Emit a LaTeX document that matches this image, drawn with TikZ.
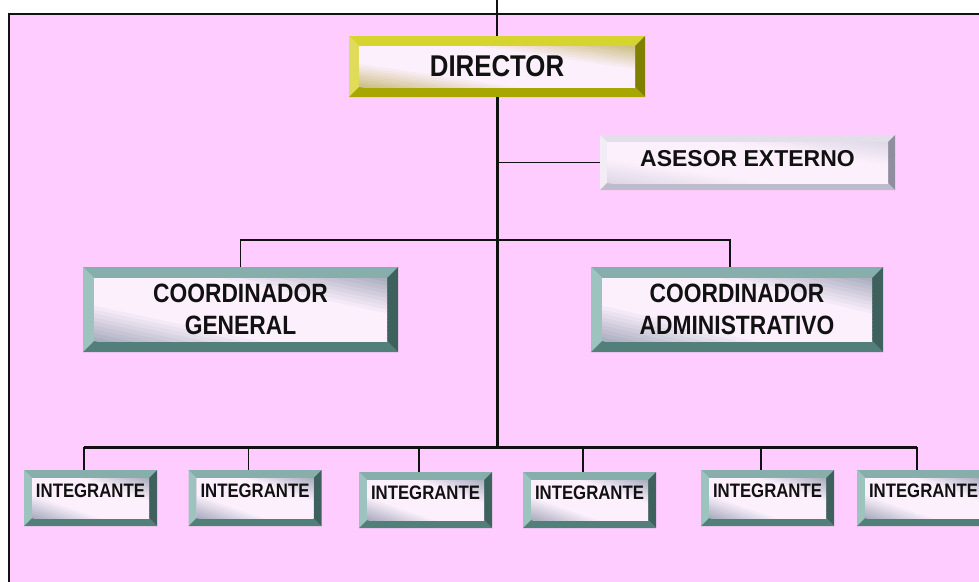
\documentclass[tikz,border=0pt]{standalone}
\usepackage{fontspec}
\setmainfont{Liberation Sans}
\newfontfamily\angosta[FakeStretch=0.86]{Liberation Sans}
\usetikzlibrary{positioning,calc}
\definecolor{ocInk}{HTML}{111111}
\definecolor{ocPink}{HTML}{FFCCFF}
\definecolor{ocFace}{HTML}{FCF0FC}
\definecolor{ocGray}{HTML}{A8ACBE}
\definecolor{ocTint}{HTML}{CCBE84}
\definecolor{ocGoldT}{HTML}{D6D42E}
\definecolor{ocGoldL}{HTML}{E0DC5A}
\definecolor{ocGoldB}{HTML}{A8A600}
\definecolor{ocGoldR}{HTML}{808000}
\definecolor{ocTealT}{HTML}{86AFAB}
\definecolor{ocTealL}{HTML}{9DC3BF}
\definecolor{ocTealB}{HTML}{527F7A}
\definecolor{ocTealR}{HTML}{3F615D}
\definecolor{ocLilaT}{HTML}{E2DEEA}
\definecolor{ocLilaL}{HTML}{F2ECF4}
\definecolor{ocLilaB}{HTML}{BDBCCC}
\definecolor{ocLilaR}{HTML}{8E8E9E}
\definecolor{ocLilaF}{HTML}{DED8E6}
% beveled face: width, top, left, bottom, right, light, dark
\newcommand{\biselar}[7]{%
  \coordinate (bNW) at (path picture bounding box.north west);
  \coordinate (bNE) at (path picture bounding box.north east);
  \coordinate (bSE) at (path picture bounding box.south east);
  \coordinate (bSW) at (path picture bounding box.south west);
  \fill[#2] (bNW) -- (bNE) -- ([shift={(-#1,-#1)}]bNE) -- ([shift={(#1,-#1)}]bNW) -- cycle;
  \fill[#3] (bNW) -- (bSW) -- ([shift={(#1,#1)}]bSW) -- ([shift={(#1,-#1)}]bNW) -- cycle;
  \fill[#4] (bSW) -- (bSE) -- ([shift={(-#1,#1)}]bSE) -- ([shift={(#1,#1)}]bSW) -- cycle;
  \fill[#5] (bNE) -- (bSE) -- ([shift={(-#1,#1)}]bSE) -- ([shift={(-#1,-#1)}]bNE) -- cycle;
  \coordinate (fO) at ([shift={(#1,#1)}]bSW);
  \coordinate (fX) at ([shift={(-#1,#1)}]bSE);
  \coordinate (fY) at ([shift={(#1,-#1)}]bNW);
  \begin{scope}
    \clip (fO) rectangle ([shift={(-#1,-#1)}]bNE);
    \foreach \k in {0,...,31}{
      \pgfmathsetmacro{\sa}{\k/16}
      \pgfmathsetmacro{\sb}{(\k+1)/16+0.02}
      \pgfmathtruncatemacro{\pc}{min(100,170*(1-abs((\k+0.5)/16-1)))}
      \fill[#6!\pc!#7] let \p1=($(fX)-(fO)$), \p2=($(fY)-(fO)$) in
        ($(fO)+({(\sa-3)*\x1},{3*\y2})$) -- ($(fO)+({(\sa+3)*\x1},{-3*\y2})$)
        -- ($(fO)+({(\sb+3)*\x1},{-3*\y2})$) -- ($(fO)+({(\sb-3)*\x1},{3*\y2})$) -- cycle;
    }
  \end{scope}
}
\tikzset{
  puesto/.style={rectangle, inner sep=0pt, align=center, text=ocInk},
  puestoD/.style={puesto, minimum width=296pt, minimum height=61pt, font=\angosta\fontsize{30}{34}\selectfont\bfseries,
    path picture={\biselar{10pt}{ocGoldT}{ocGoldL}{ocGoldB}{ocGoldR}{ocFace}{ocTint}}},
  puestoA/.style={puesto, minimum width=295pt, minimum height=55pt, font=\fontsize{23}{28}\selectfont\bfseries,
    text height=16pt, text depth=9pt,
    path picture={\biselar{7pt}{ocLilaT}{ocLilaL}{ocLilaB}{ocLilaR}{ocFace}{ocLilaF}}},
  puestoC/.style={puesto, minimum height=85pt, font=\angosta\fontsize{26.5}{32}\selectfont\bfseries,
    path picture={\biselar{11pt}{ocTealT}{ocTealL}{ocTealB}{ocTealR}{ocFace}{ocGray}}},
  puestoI/.style={puesto, minimum width=133pt, minimum height=56pt, font=\angosta\fontsize{19.5}{22}\selectfont\bfseries,
    text height=14pt, text depth=16pt,
    path picture={\biselar{8pt}{ocTealT}{ocTealL}{ocTealB}{ocTealR}{ocFace}{ocGray}}},
  lin/.style={draw=ocInk, line width=1.6pt},
  linF/.style={draw=ocInk, line width=1.2pt},
  linG/.style={draw=ocInk, line width=3pt},
}
\begin{document}
\begin{tikzpicture}[x=1pt, y=-1pt]
  \useasboundingbox (0,0) rectangle (979,581);
  \clip (0,0) rectangle (979,581);
  \fill[white] (0,0) rectangle (979,581);
  \draw[line width=2.5pt, draw=ocInk, fill=ocPink] (9,14) rectangle (1000,600);

  % nodes
  \node[puestoD] (dir) at (497,66.5) {DIRECTOR};
  \node[puestoA] (ase) at (747.5,162.5) {ASESOR EXTERNO};
  \node[puestoC, minimum width=315pt] (cg) at (240.5,309.5) {COORDINADOR\\GENERAL};
  \node[puestoC, minimum width=292pt] (ca) at (737,309.5) {COORDINADOR\\ADMINISTRATIVO};
  \foreach \n/\x/\y in {1/90.5/498, 2/255/498, 3/425.5/500, 4/589.5/500, 5/767.5/498, 6/923.5/498}{
    \node[puestoI] (i\n) at (\x,\y) {INTEGRANTE};
    \coordinate (d\n) at ([xshift=-6.5pt]i\n.north);
  }

  % connectors
  \coordinate (cima) at (497,0);
  \coordinate (barra) at (497,240);
  \coordinate (hub) at (497,447);
  \draw[linF] (cima) -- (dir.north);
  \draw[linG] (dir.south) -- (hub);
  \draw[lin] (dir.south |- ase.west) -- (ase.west);
  \draw[lin] (cg.north) |- (barra) -| ([xshift=-7pt]ca.north);
  \draw[linG] (d1 |- hub) -- (d6 |- hub);
  \foreach \n in {1,...,6}{
    \draw[lin] (d\n |- hub) -- (d\n);
  }
\end{tikzpicture}
\end{document}
